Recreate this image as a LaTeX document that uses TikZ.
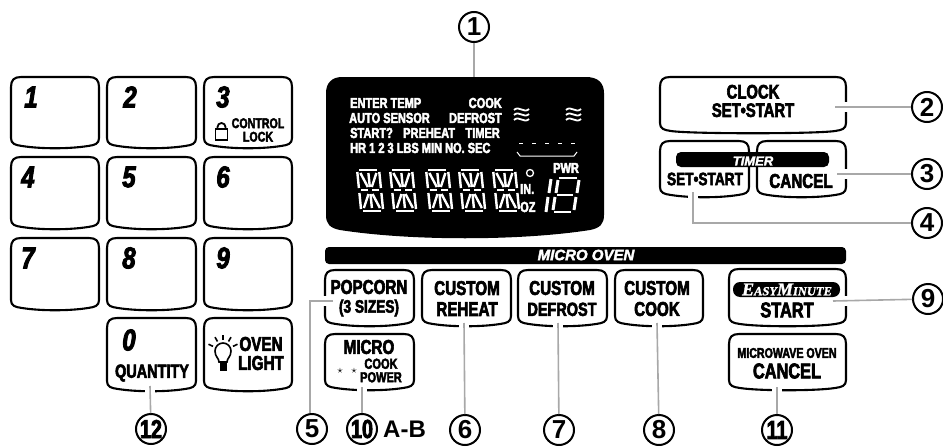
\documentclass[tikz,border=0pt]{standalone}
\usepackage{fontspec}
\setmainfont{Liberation Sans}
\newfontfamily\keyfont[BoldFeatures={FakeBold=3,FakeStretch=0.76}, BoldItalicFeatures={FakeBold=3,FakeStretch=0.8}]{Liberation Sans}
\newfontfamily\barfont[BoldItalicFeatures={FakeBold=2.5}]{Liberation Sans}
\newfontfamily\easyfont[BoldItalicFeatures={FakeBold=1.5}]{Liberation Serif}
\usetikzlibrary{calc, positioning}

\definecolor{leadgray}{HTML}{A8A8A8}

\tikzset{
    keylabel/.style={inner sep=0pt, align=center, font=\keyfont\bfseries\fontsize{#1}{#1}\selectfont},
    keylabel/.default=15,
    numlabel/.style={inner sep=0pt, font=\keyfont\bfseries\itshape\fontsize{30}{30}\selectfont},
    dsplabel/.style={inner sep=0pt, anchor=west, text=white, font=\keyfont\bfseries\fontsize{14.5}{14.5}\selectfont},
    barlabel/.style={inner sep=0pt, text=white, font=\barfont\bfseries\itshape\fontsize{#1}{#1}\selectfont},
    callout/.style={circle, draw, line width=2pt, fill=white, minimum size=30pt, inner sep=0pt, font=\bfseries\fontsize{26}{26}\selectfont},
    calloutb/.style={callout, font=\keyfont\bfseries\fontsize{26}{26}\selectfont},
    leader/.style={draw=leadgray, line width=1.6pt},
    gapline/.style={draw=white, line width=10pt},
}

% key outline: name, left, top, right, bottom
\newcommand{\keyshape}[5]{
    \draw[line width=2.1pt, line join=round] (#2+10,#3) -- (#4-10,#3)
        .. controls (#4-3,#3) and (#4,#3+3) .. (#4,#3+10) -- (#4,#5-10)
        .. controls (#4,#5-4) and (#4-4,#5-3) .. (#4-11,#5-2)
        .. controls (#4-30,#5+1) and (#2+30,#5+1) .. (#2+11,#5-2)
        .. controls (#2+4,#5-3) and (#2,#5-4) .. (#2,#5-10) -- (#2,#3+10)
        .. controls (#2,#3+3) and (#2+3,#3) .. (#2+10,#3) -- cycle;
    \coordinate (#1) at ({(#2+#4)/2},{(#3+#5)/2});
}

% one alphanumeric display digit
\newcommand{\segdigit}[2]{
    \begin{scope}[shift={(#1,#2)}, xslant=-0.1, draw=white, line width=2.4pt]
        \foreach \xa/\ya/\xb/\yb in {3/1/21/1, 3/21/10/21, 14/21/21/21, 3/42/21/42,
            1/3/1/19, 1/24/1/40, 23/3/23/19, 23/24/23/40,
            12/4/12/18, 12/25/12/39,
            4/4/10/18, 20/4/14/18, 4/39/10/25, 20/39/14/25}
            {\draw (\xa,\ya) -- (\xb,\yb);}
    \end{scope}
}

\begin{document}
\begin{tikzpicture}[x=1pt, y=-1pt]
    \useasboundingbox (0,0) rectangle (943,447);

    % number pad
    \keyshape{kOne}{11}{77}{99}{148}
    \keyshape{kTwo}{107}{77}{196}{148}
    \keyshape{kThree}{204}{77}{292}{148}
    \keyshape{kFour}{11}{157}{99}{229}
    \keyshape{kFive}{107}{157}{196}{229}
    \keyshape{kSix}{204}{157}{292}{229}
    \keyshape{kSeven}{11}{238}{99}{310}
    \keyshape{kEight}{107}{238}{196}{310}
    \keyshape{kNine}{204}{238}{292}{310}
    \keyshape{kZero}{107}{318}{196}{391}
    \keyshape{kLight}{204}{318}{292}{391}

    % function keys
    \keyshape{kPopcorn}{325}{270}{414}{326}
    \keyshape{kReheat}{422}{270}{511}{326}
    \keyshape{kDefrost}{518}{270}{607}{326}
    \keyshape{kCook}{615}{270}{703}{326}
    \keyshape{kStart}{729}{269}{846}{326}
    \keyshape{kMicro}{325}{334}{414}{390}
    \keyshape{kCancel}{729}{334}{846}{390}
    \keyshape{kClock}{660}{77}{846}{133}
    \keyshape{kSet}{660}{141}{749}{197}
    \keyshape{kStop}{757}{141}{846}{197}

    % free ends of the leaders, with a white gap where they cut a key outline
    \coordinate (e1) at (474,77);
    \coordinate (e2) at (835,107);
    \coordinate (e3) at (837,174);
    \coordinate (e4) at (693,192);
    \coordinate (e5) at (333,301);
    \coordinate (e6) at (464,323);
    \coordinate (e7) at (558,323);
    \coordinate (e8) at (657,323);
    \coordinate (e9) at (833,301);
    \coordinate (e10) at (362,387);
    \coordinate (e11) at (777,387);
    \coordinate (e12) at (150,386);
    \foreach \tgt in {e2,e3,e9}
        {\draw[gapline] (\tgt) -- ++(20,0);}
    \foreach \tgt in {e4,e6,e7,e8,e10,e11,e12}
        {\draw[gapline] (\tgt) -- ++(0,10);}
    \draw[gapline] (e5) -- ++(-15,0);

    \foreach \num/\xa/\ya in {1/31/97, 2/130/97, 3/223/97, 4/28/177, 5/129/177, 6/223/177, 7/28/258, 8/129/258, 9/223/258, 0/129/340}
        {\node[numlabel] (n\num) at (\xa,\ya) {\num};}

    % control lock
    \node[keylabel=14] (lockText) at (258,130) {CONTROL\\[-0.5pt]LOCK};
    \draw[line width=1.8pt] (215.5,129) rectangle (227.5,140);
    \draw[line width=1.8pt] (217.5,129) -- (217.5,127) arc (180:360:4) -- (225.5,129);

    \node[keylabel=19] (quantityText) at (152,373) {QUANTITY};
    \node[keylabel=20] (lightText) at (261,353.5) {OVEN\\[-1pt]LIGHT};
    % bulb
    \draw[line width=1.6pt] (219,362) .. controls (219,358) and (215,357) .. (215,351) arc (180:360:8) .. controls (231,357) and (227,358) .. (227,362) -- cycle;
    \fill (219.5,363) rectangle (226.5,371);
    \foreach \ang in {205,240,270,300,335}
        {\draw[line width=1.6pt] ($(223,351)+(\ang:11)$) -- ($(223,351)+(\ang:16)$);}

    % black bars and display
    \fill[rounded corners=4pt] (325,247) rectangle (846,264);
    \fill[rounded corners=5pt] (676,152) rectangle (829,167);
    \fill (342,77) -- (586,77) .. controls (598,77) and (604,83) .. (604,93) -- (604,215)
        .. controls (604,224) and (600,228) .. (590,230) .. controls (520,241) and (410,241) .. (340,230)
        .. controls (330,228) and (326,224) .. (326,215) -- (326,93) .. controls (326,83) and (332,77) .. (342,77) -- cycle;

    \node[barlabel=15] (microBar) at (586,255) {MICRO OVEN};
    \node[barlabel=13] (timerBar) at (753,161) {TIMER};

    % display text
    \node[dsplabel] (dspEnter) at (350,103) {ENTER TEMP};
    \node[dsplabel, anchor=east] (dspCook) at (502,103) {COOK};
    \node[dsplabel] (dspAuto) at (349,118) {AUTO SENSOR};
    \node[dsplabel, anchor=east] (dspDefrost) at (502,118) {DEFROST};
    \node[dsplabel] (dspStart) at (350,133) {START?};
    \node[dsplabel] (dspPreheat) at (403,133) {PREHEAT};
    \node[dsplabel, anchor=east] (dspTimer) at (500,133) {TIMER};
    \node[dsplabel] (dspHr) at (350,148) {HR 1 2 3 LBS MIN NO. SEC};
    \node[dsplabel] (dspPwr) at (553,168) {PWR};
    \node[dsplabel] (dspIn) at (520,189) {IN.};
    \node[dsplabel] (dspOz) at (520,207) {OZ};

    \foreach \xa in {356,389,425,458,492}
        {\segdigit{\xa}{169}}

    \begin{scope}[draw=white, line width=1pt]
        \draw[line width=1.3pt] (530,173) circle (3.5);
        \draw[line width=3pt] (546,212) -- (548,197) (549,193) -- (551,179);
        \draw[line width=2.5pt] (559,178) -- (577,178) (557,195) -- (573,195) (554,212) -- (571,212);
        \draw[line width=3pt] (556,193) -- (558,180) (553,210) -- (555,197) (579,180) -- (577,193) (576,197) -- (574,210);
        \foreach \xa in {514,566} {
            \foreach \ya in {110,115,120}
                {\draw[line width=1.8pt] (\xa,\ya) .. controls (\xa+5,\ya-5) and (\xa+10,\ya+4) .. (\xa+15,\ya-1);}
        }
        \foreach \xa in {519,532,545,558,571}
            {\draw (\xa,143) -- (\xa+4,143);}
        \draw (517,152) -- (520,156) -- (574,156) -- (577,152);
    \end{scope}

    % key texts
    \node[keylabel=19.5] (clockText) at (753,101) {CLOCK\\[-1pt]SET\textbullet START};
    \node[keylabel=18] (setText) at (705,179) {SET\textbullet START};
    \node[keylabel=20] (cancelText) at (801,181) {CANCEL};
    \node[keylabel=20] (popText) at (369,287) {POPCORN};
    \node[keylabel=18] (sizeText) at (369,308) {(3 SIZES)};
    \node[keylabel=20] (reheatText) at (467,298.5) {CUSTOM\\[1pt]REHEAT};
    \node[keylabel=20] (defrostText) at (562,298.5) {CUSTOM\\[1pt]{\fontsize{19}{20}\selectfont DEFROST}};
    \node[keylabel=20] (cookText) at (657,298.5) {CUSTOM\\[1pt]COOK};
    \node[keylabel=20] (microText) at (369,347) {MICRO};
    \node[keylabel=14.5] (powerText) at (381,370.5) {COOK\\[-1pt]POWER};
    \node[inner sep=0pt, font=\fontsize{11}{11}\selectfont] (starA) at (340,371) {$\star$};
    \node[inner sep=0pt, font=\fontsize{11}{11}\selectfont] (starB) at (354,371) {$\star$};
    \fill[rounded corners=7pt] (733,282) rectangle (840,297);
    \node[inner sep=0pt, text=white, font=\easyfont\bfseries\itshape\fontsize{12.5}{12.5}\selectfont] (easyText) at (787,289.5) {{\fontsize{18}{18}\selectfont E}ASY{\fontsize{18}{18}\selectfont M}INUTE};
    \node[keylabel=21.5] (startText) at (787,310) {START};
    \node[keylabel=14] (ovenText) at (787,353) {MICROWAVE OVEN};
    \node[keylabel=21.5] (stopText) at (787,371) {CANCEL};

    % callouts
    \node[callout] (c1) at (474,27) {1};
    \node[callout] (c2) at (927,107) {2};
    \node[callout] (c3) at (927,174) {3};
    \node[callout] (c4) at (927,223) {4};
    \node[callout] (c5) at (312,429) {5};
    \node[callout] (c6) at (465,430) {6};
    \node[callout] (c7) at (559,430) {7};
    \node[callout] (c8) at (659,430) {8};
    \node[callout] (c9) at (928,299) {9};
    \node[calloutb] (c10) at (362,429) {10};
    \node[calloutb] (c11) at (777,430) {11};
    \node[calloutb] (c12) at (151,429) {12};
    \node[right=5pt of c10, inner sep=0pt, font=\bfseries\fontsize{24}{24}\selectfont] (abText) {A-B};

    % leaders
    \draw[leader] (c1) -- (e1);
    \draw[leader] (e2) -- (c2);
    \draw[leader] (e3) -- (c3);
    \draw[leader] (e4) |- (c4);
    \draw[leader] (e5) -| ([xshift=-2pt]c5.north);
    \draw[leader] (e6) -- (c6);
    \draw[leader] (e7) -- (c7);
    \draw[leader] (e8) -- (c8);
    \draw[leader] (e9) -- (c9);
    \draw[leader] (e10) -- (c10);
    \draw[leader] (e11) -- (c11);
    \draw[leader] (e12) -- (c12);
\end{tikzpicture}
\end{document}
